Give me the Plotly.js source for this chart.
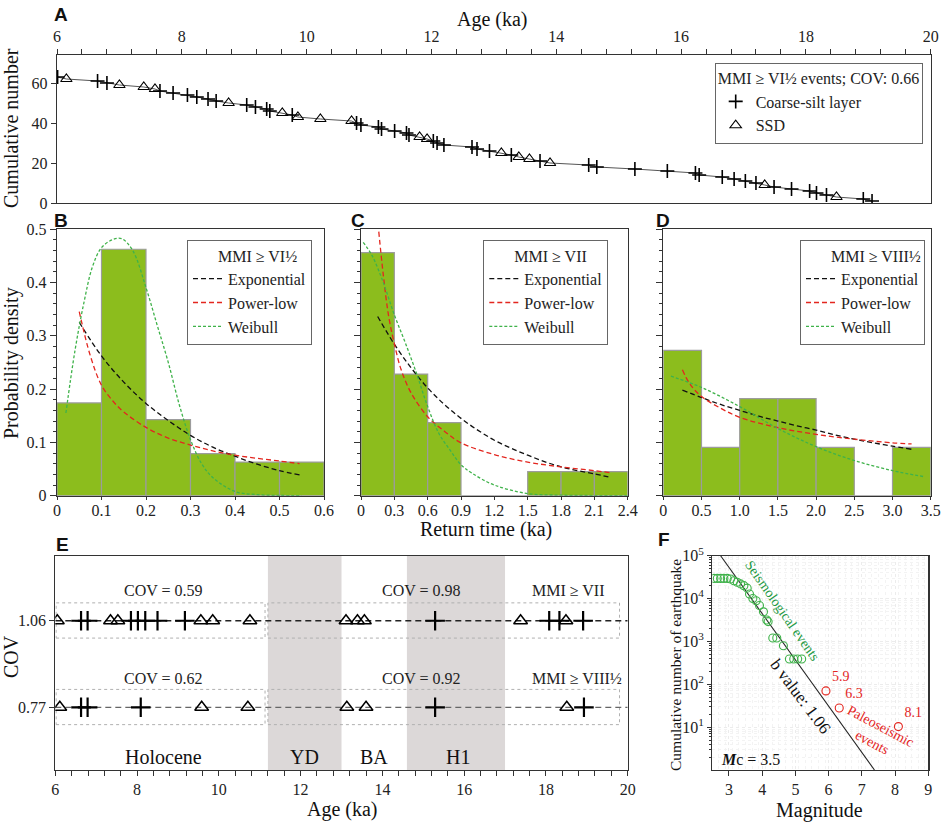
<!DOCTYPE html>
<html><head><meta charset="utf-8">
<script src="https://cdn.plot.ly/plotly-3.0.1.min.js"></script>
<style>html,body{margin:0;padding:0;background:#fff}</style>
</head><body><div id="chart" style="width:941px;height:822px"></div>
<script>
// ---------- Panel A: cumulative events ----------
const aCoarseAge = [6.01,6.65,6.80,7.65,7.86,8.09,8.24,8.42,8.55,9.04,9.18,9.36,9.41,9.77,10.80,10.87,11.15,11.20,11.41,11.60,11.64,12.03,12.09,12.20,12.65,12.73,12.93,13.28,13.74,14.52,14.65,15.26,15.78,16.23,16.29,16.66,16.85,17.03,17.20,17.49,17.77,18.06,18.17,18.33,18.92,19.06];
const aCoarseN   = [63,61,60,56,55,54,53,52,51,49,48,47,46,44,40,39,38,37,36,35,34,31,30,29,28,27,26,24,21,19,18,17,16,15,14,13,12,11,10,8,7,6,5,4,2,1];
const aSSDAge = [6.15,7.00,7.39,7.57,8.75,9.61,9.86,10.22,10.72,11.81,11.93,13.12,13.40,13.57,13.90,17.34,18.49];
const aSSDN   = [62,59,58,57,50,45,43,42,41,33,32,25,23,22,20,9,3];
const aTitle = 'MMI ≥ VI½ events; COV: 0.66';

// ---------- Panel B: MMI >= VI1/2 ----------
const bBinCenter = [0.05,0.15,0.25,0.35,0.45,0.55];
const bDensity   = [0.174,0.462,0.1425,0.079,0.063,0.063];
const bExpX = [0.05,0.1,0.15,0.2,0.25,0.3,0.35,0.4,0.45,0.5,0.545];
const bExpY = [0.325,0.262,0.213,0.173,0.141,0.113,0.091,0.074,0.059,0.047,0.039];
const bPowX = [0.05,0.075,0.1,0.125,0.15,0.2,0.25,0.3,0.35,0.4,0.45,0.5,0.545];
const bPowY = [0.345,0.262,0.207,0.178,0.157,0.128,0.108,0.095,0.084,0.076,0.070,0.065,0.060];
const bWeiX = [0.02,0.04,0.06,0.08,0.1,0.125,0.145,0.17,0.2,0.225,0.25,0.275,0.3,0.325,0.35,0.4,0.45,0.5,0.55];
const bWeiY = [0.155,0.27,0.36,0.43,0.465,0.48,0.482,0.46,0.39,0.32,0.25,0.17,0.105,0.06,0.034,0.008,0.002,0.0005,0];

// ---------- Panel C: MMI >= VII ----------
const cBinCenter = [0.15,0.45,0.75,1.05,1.35,1.65,1.95,2.25];
const cDensity   = [0.4556,0.228,0.137,0,0,0.045,0.045,0.045];
const cExpX = [0.15,0.3,0.45,0.6,0.75,0.9,1.05,1.2,1.35,1.5,1.65,1.8,1.95,2.1,2.25];
const cExpY = [0.336,0.284,0.240,0.202,0.171,0.145,0.123,0.104,0.089,0.076,0.064,0.054,0.047,0.041,0.034];
const cPowX = [0.16,0.2,0.25,0.3,0.36,0.45,0.6,0.75,0.9,1.2,1.5,1.8,2.1,2.25];
const cPowY = [0.495,0.415,0.335,0.285,0.237,0.193,0.148,0.121,0.099,0.077,0.063,0.054,0.047,0.043];
const cWeiX = [0.02,0.1,0.2,0.3,0.4,0.5,0.6,0.7,0.8,0.9,1.0,1.2,1.5,1.8,2.1,2.4];
const cWeiY = [0.475,0.45,0.40,0.339,0.286,0.229,0.167,0.117,0.086,0.058,0.042,0.02,0.004,0.001,0.0003,0];

// ---------- Panel D: MMI >= VIII1/2 ----------
const dBinCenter = [0.25,0.75,1.25,1.75,2.25,2.75,3.25];
const dDensity   = [0.2725,0.0906,0.182,0.182,0.0906,0,0.0906];
const dExpX = [0.25,0.5,0.75,1.0,1.25,1.5,1.75,2.0,2.25,2.5,2.75,3.0,3.25];
const dExpY = [0.198,0.184,0.171,0.160,0.149,0.140,0.131,0.123,0.114,0.106,0.099,0.093,0.087];
const dPowX = [0.25,0.35,0.5,0.75,1.0,1.5,2.0,2.5,3.0,3.25];
const dPowY = [0.236,0.209,0.186,0.164,0.147,0.1275,0.115,0.106,0.099,0.097];
const dWeiX = [0.1,0.5,1.0,1.5,2.0,2.5,3.0,3.4];
const dWeiY = [0.224,0.203,0.167,0.126,0.092,0.066,0.047,0.036];

const distNames = ['Exponential','Power-low','Weibull'];
const legendTitles = ['MMI ≥ VI½','MMI ≥ VII','MMI ≥ VIII½'];

// ---------- Panel E: event sequences ----------
const eCOV = [1.06, 0.77];
const eVIICoarse = [6.63,6.79,7.85,8.02,8.2,8.5,9.17,15.29,18.08,18.33,18.91];
const eVIISSD    = [6.05,7.35,7.53,9.56,9.85,10.76,13.11,13.39,13.56,17.38,18.49];
const eVIIICoarse = [6.63,6.79,8.09,15.29,18.93];
const eVIIISSD    = [6.11,9.58,10.71,13.13,13.6,18.51];
const eLineX = [6,20];
const eBoxStart = [6.02,11.2];
const eBoxEnd   = [11.13,19.8];
const ePeriodStart = [11.2,14.6];
const ePeriodEnd   = [13.0,17.0];
const eLabelName = ['Holocene','YD','BA','H1'];
const eLabelAge  = [8.65,12.1,13.8,15.85];
const eCovText = ['COV = 0.59','COV = 0.98','MMI ≥ VII','COV = 0.62','COV = 0.92','MMI ≥ VIII½'];
const eCovTextAge = [8.65,14.96,18.54,8.65,14.96,18.77];
const eCovTextY = [1.163,1.163,1.163,0.867,0.867,0.867];

// ---------- Panel F: magnitude-frequency ----------
const fSeisMag = [2.55,2.65,2.75,2.85,2.95,3.05,3.15,3.25,3.35,3.45,3.55,3.62,3.72,3.82,3.92,4.04,4.14,4.18,4.32,4.44,4.64,4.82,4.95,5.07,5.19];
const fSeisN   = [29500,29500,29500,29500,29500,28500,26000,24000,22000,20000,17500,12800,10000,8900,6900,4900,3150,2900,1200,1200,790,390,390,390,390];
const fFitMag = [2.75,7.38];
const fFitN   = [100000,1];
const fPaleoMag = [5.92,6.32,8.1];
const fPaleoN   = [70,28,10.3];
const fPaleoLabel = ['5.9','6.3','8.1'];

// ---------- layout helpers ----------
const W = 941, H = 822;
const X = p => p / W;
const Y = p => 1 - p / H;
const SERIF = "'Liberation Serif', 'Times New Roman', serif";
const SANS = "'Liberation Sans', Arial, sans-serif";
const BAR = '#8cbd1d';
const RED = '#e3261f';
const GREEN = '#3fb24a';

function ax(o) {
  return Object.assign({
    showline: true, mirror: true, linecolor: '#333', linewidth: 1.2,
    ticks: 'outside', tickcolor: '#333', ticklen: 5, tickwidth: 1,
    tickfont: {family: SERIF, size: 16, color: '#222'},
    zeroline: false, showgrid: false, automargin: false, fixedrange: true
  }, o);
}

const traces = [];

// Panel A
const aAll = aCoarseAge.map((a, i) => [a, aCoarseN[i]]).concat(aSSDAge.map((a, i) => [a, aSSDN[i]]))
  .sort((p, q) => p[0] - q[0]);
traces.push({x: aAll.map(p => p[0]), y: aAll.map(p => p[1]), mode: 'lines', xaxis: 'x', yaxis: 'y',
  line: {color: '#555', width: 1}, showlegend: false, hoverinfo: 'skip'});
traces.push({x: aCoarseAge, y: aCoarseN, mode: 'markers', name: 'Coarse-silt layer', xaxis: 'x', yaxis: 'y',
  marker: {symbol: 'cross-thin-open', size: 10, color: '#000', line: {color: '#000', width: 1.6}}, legend: 'legend'});
traces.push({x: aSSDAge, y: aSSDN, mode: 'markers', name: 'SSD', xaxis: 'x', yaxis: 'y',
  marker: {symbol: 'triangle-up-open', size: 10, color: '#000', line: {color: '#000', width: 1.1}}, legend: 'legend'});

// Panels B, C, D
const hist = [
  {c: bBinCenter, d: bDensity, w: 0.1, curves: [[bExpX, bExpY], [bPowX, bPowY], [bWeiX, bWeiY]], xa: 'x2', ya: 'y2', lg: 'legend2'},
  {c: cBinCenter, d: cDensity, w: 0.3, curves: [[cExpX, cExpY], [cPowX, cPowY], [cWeiX, cWeiY]], xa: 'x3', ya: 'y3', lg: 'legend3'},
  {c: dBinCenter, d: dDensity, w: 0.5, curves: [[dExpX, dExpY], [dPowX, dPowY], [dWeiX, dWeiY]], xa: 'x4', ya: 'y4', lg: 'legend4'}
];
const curveStyle = [
  {color: '#111', dash: '5px,3px'},
  {color: RED, dash: '5px,3px'},
  {color: GREEN, dash: '3px,2px'}
];
hist.forEach(h => {
  traces.push({type: 'bar', x: h.c, y: h.d, width: h.w, xaxis: h.xa, yaxis: h.ya, showlegend: false,
    marker: {color: BAR, line: {color: '#9c9c9c', width: 1.2}}, hoverinfo: 'skip'});
  h.curves.forEach((cv, k) => {
    traces.push({x: cv[0], y: cv[1], mode: 'lines', name: distNames[k], xaxis: h.xa, yaxis: h.ya, legend: h.lg,
      line: {color: curveStyle[k].color, dash: curveStyle[k].dash, width: 1.3, shape: 'spline', smoothing: 1}});
  });
});

// Panel E
const rowLine = ['#222', '#666'];
[[eVIICoarse, eVIISSD], [eVIIICoarse, eVIIISSD]].forEach((row, r) => {
  traces.push({x: eLineX, y: [eCOV[r], eCOV[r]], mode: 'lines', xaxis: 'x5', yaxis: 'y5', showlegend: false,
    line: {color: rowLine[r], width: 1.3, dash: '6px,4px'}, hoverinfo: 'skip'});
  traces.push({x: row[0], y: row[0].map(() => eCOV[r]), mode: 'markers', xaxis: 'x5', yaxis: 'y5', showlegend: false,
    marker: {symbol: 'cross-thin-open', size: 14, color: '#000', line: {color: '#000', width: 2.2}}});
  traces.push({x: row[1], y: row[1].map(() => eCOV[r]), mode: 'markers', xaxis: 'x5', yaxis: 'y5', showlegend: false,
    marker: {symbol: 'triangle-up-open', size: 12, color: '#000', line: {color: '#000', width: 1.5}}});
});

// Panel F
traces.push({x: fFitMag, y: fFitN, mode: 'lines', xaxis: 'x6', yaxis: 'y6', showlegend: false,
  line: {color: '#222', width: 1.1}, hoverinfo: 'skip'});
traces.push({x: fSeisMag, y: fSeisN, mode: 'markers', xaxis: 'x6', yaxis: 'y6', showlegend: false,
  marker: {symbol: 'circle-open', size: 8, color: GREEN, line: {color: GREEN, width: 1.1}}});
traces.push({x: fPaleoMag, y: fPaleoN, mode: 'markers+text', text: fPaleoLabel, textposition: 'top right',
  textfont: {family: SERIF, size: 14, color: RED}, xaxis: 'x6', yaxis: 'y6', showlegend: false,
  marker: {symbol: 'circle-open', size: 8, color: RED, line: {color: RED, width: 1.1}}, cliponaxis: false});

// ---------- shapes ----------
const shapes = [];
ePeriodStart.forEach((s, i) => shapes.push({type: 'rect', xref: 'x5', yref: 'y5 domain', x0: s, x1: ePeriodEnd[i], y0: 0, y1: 1,
  fillcolor: '#dcd8d8', line: {width: 0}, layer: 'below'}));
eCOV.forEach(c => eBoxStart.forEach((s, i) => shapes.push({type: 'rect', xref: 'x5', yref: 'y5', x0: s, x1: eBoxEnd[i],
  y0: c - 0.058, y1: c + 0.06, line: {color: '#b0b0b0', width: 1, dash: 'dot'}, layer: 'below'})));

// ---------- annotations ----------
const ann = [];
function txt(text, x, y, o) {
  ann.push(Object.assign({text, x, y, xref: 'paper', yref: 'paper', showarrow: false, xanchor: 'center', yanchor: 'middle',
    font: {family: SERIF, size: 20, color: '#111'}}, o || {}));
}
[['A', 52, 2], ['B', 52, 208], ['C', 349, 208], ['D', 654, 208], ['E', 54, 532], ['F', 656, 527]].forEach(l =>
  txt('<b>' + l[0] + '</b>', X(l[1]), Y(l[2]), {xanchor: 'left', yanchor: 'top', font: {family: SANS, size: 19, color: '#111'}}));
txt('Age (ka)', X(492), Y(20));
txt('Cumulative number', X(11), Y(128), {textangle: -90});
txt('Probability density', X(11), Y(363), {textangle: -90});
txt('Return time (ka)', X(486), Y(529));
txt('COV', X(11), Y(657), {textangle: -90});
txt('Age (ka)', X(342), Y(809));
txt('Cumulative number of earthquake', X(675), Y(665), {textangle: -90, font: {family: SERIF, size: 15.5, color: '#111'}});
txt('Magnitude', X(819), Y(810));

eLabelName.forEach((n, i) => ann.push({text: n, x: eLabelAge[i], y: 0.605, xref: 'x5', yref: 'y5', showarrow: false,
  font: {family: SERIF, size: 20, color: '#111'}}));
eCovText.forEach((t, i) => ann.push({text: t, x: eCovTextAge[i], y: eCovTextY[i], xref: 'x5', yref: 'y5', showarrow: false,
  font: {family: SERIF, size: 16, color: '#222'}}));

ann.push({text: 'Seismological events', x: 4.6, y: 3.72, xref: 'x6', yref: 'y6', showarrow: false, textangle: 55,
  font: {family: SERIF, size: 14, color: '#1f9a45'}});
ann.push({text: 'b value: 1.06', x: 5.15, y: 1.71, xref: 'x6', yref: 'y6', showarrow: false, textangle: 53,
  font: {family: SERIF, size: 17, color: '#111'}});
ann.push({text: 'Paleoseismic<br>events', x: 7.45, y: 0.84, xref: 'x6', yref: 'y6', showarrow: false, textangle: 28,
  font: {family: SERIF, size: 14, color: RED}});
ann.push({text: '<b><i>M</i></b>c = 3.5', x: 3.65, y: 0.25, xref: 'x6', yref: 'y6', showarrow: false,
  font: {family: SERIF, size: 16, color: '#111'}});

// ---------- legends ----------
function lg(xr, yt, title) {
  return {x: X(xr), y: Y(yt), xanchor: 'right', yanchor: 'top', bgcolor: '#fff', bordercolor: '#666', borderwidth: 1,
    font: {family: SERIF, size: 16, color: '#222'}, title: {text: title, font: {family: SERIF, size: 16, color: '#222'}},
    itemwidth: 30, tracegroupgap: 0, itemclick: false, itemdoubleclick: false};
}
const pad = '\u00a0\u00a0\u00a0\u00a0\u00a0\u00a0\u00a0';

const logMinor = [];
for (let e = 0; e < 5; e++) for (let m = 2; m <= 9; m++) logMinor.push(m * Math.pow(10, e));

const hx = {ticklen: 3, ticklabelstandoff: -3};
const layout = {
  width: W, height: H, margin: {l: 0, r: 0, t: 0, b: 0}, paper_bgcolor: '#fff', plot_bgcolor: '#fff',
  font: {family: SERIF, size: 16, color: '#222'}, bargap: 0, showlegend: true,
  xaxis: ax({domain: [X(57), X(930.7)], anchor: 'y', side: 'top', range: [6, 20], dtick: 2, tick0: 6,
    minor: {dtick: 0.4, tick0: 6, ticks: 'outside', ticklen: 5, tickcolor: '#333'}}),
  yaxis: ax({domain: [Y(203), Y(55)], anchor: 'x', range: [0, 74], tickvals: [0, 20, 40, 60]}),
  xaxis2: ax(Object.assign({domain: [X(57), X(324)], anchor: 'y2', range: [0, 0.6], dtick: 0.1, tick0: 0}, hx)),
  yaxis2: ax({domain: [Y(495.7), Y(229)], anchor: 'x2', range: [0, 0.5], dtick: 0.1, ticklen: 6,
    minor: {dtick: 0.02, ticks: 'outside', ticklen: 3, tickcolor: '#333'}}),
  xaxis3: ax(Object.assign({domain: [X(361), X(627.7)], anchor: 'y3', range: [0, 2.4], dtick: 0.3, tick0: 0}, hx)),
  yaxis3: ax({domain: [Y(495.7), Y(229)], anchor: 'x3', range: [0, 0.5], dtick: 0.1, ticklen: 6, showticklabels: false,
    minor: {dtick: 0.02, ticks: 'outside', ticklen: 3, tickcolor: '#333'}}),
  xaxis4: ax(Object.assign({domain: [X(663.3), X(930.7)], anchor: 'y4', range: [0, 3.5], tickvals: [0, 0.5, 1, 1.5, 2, 2.5, 3, 3.5],
    ticktext: ['0', '0.5', '1.0', '1.5', '2.0', '2.5', '3.0', '3.5']}, hx)),
  yaxis4: ax({domain: [Y(495.7), Y(229)], anchor: 'x4', range: [0, 0.5], dtick: 0.1, ticklen: 6, showticklabels: false,
    minor: {dtick: 0.02, ticks: 'outside', ticklen: 3, tickcolor: '#333'}}),
  xaxis5: ax({domain: [X(55.3), X(627.7)], anchor: 'y5', range: [6, 20], dtick: 2, tick0: 6,
    minor: {dtick: 0.4, tick0: 6, ticks: 'outside', ticklen: 5, tickcolor: '#333'}}),
  yaxis5: ax({domain: [Y(770), Y(555.7)], anchor: 'x5', range: [0.56, 1.278], tickvals: [0.77, 1.06], ticktext: ['0.77', '1.06']}),
  xaxis6: ax({domain: [X(712.3), X(928.3)], anchor: 'y6', range: [2.5, 9], tickvals: [3, 4, 5, 6, 7, 8, 9],
    showgrid: true, gridcolor: '#ececec', griddash: 'dot', gridwidth: 1,
    minor: {dtick: 0.2, tick0: 2.5, showgrid: true, gridcolor: '#f3f3f3', griddash: 'dot', ticks: ''}}),
  yaxis6: ax({domain: [Y(770), Y(555.7)], anchor: 'x6', type: 'log', range: [0, 5], ticklen: 4,
    tickvals: [10, 100, 1000, 10000, 100000], ticktext: ['10<sup>1</sup>', '10<sup>2</sup>', '10<sup>3</sup>', '10<sup>4</sup>', '10<sup>5</sup>'],
    showgrid: true, gridcolor: '#ececec', griddash: 'dot',
    minor: {tickvals: logMinor, ticks: 'outside', ticklen: 2, tickcolor: '#333', showgrid: true, gridcolor: '#f3f3f3', griddash: 'dot'}}),
  legend: lg(922.7, 62.7, aTitle),
  legend2: lg(312, 240, pad + legendTitles[0]),
  legend3: lg(608.3, 240, pad + legendTitles[1]),
  legend4: lg(925, 240, pad + legendTitles[2]),
  shapes: shapes, annotations: ann
};

Plotly.newPlot('chart', traces, layout, {displayModeBar: false, staticPlot: true});
</script></body></html>
